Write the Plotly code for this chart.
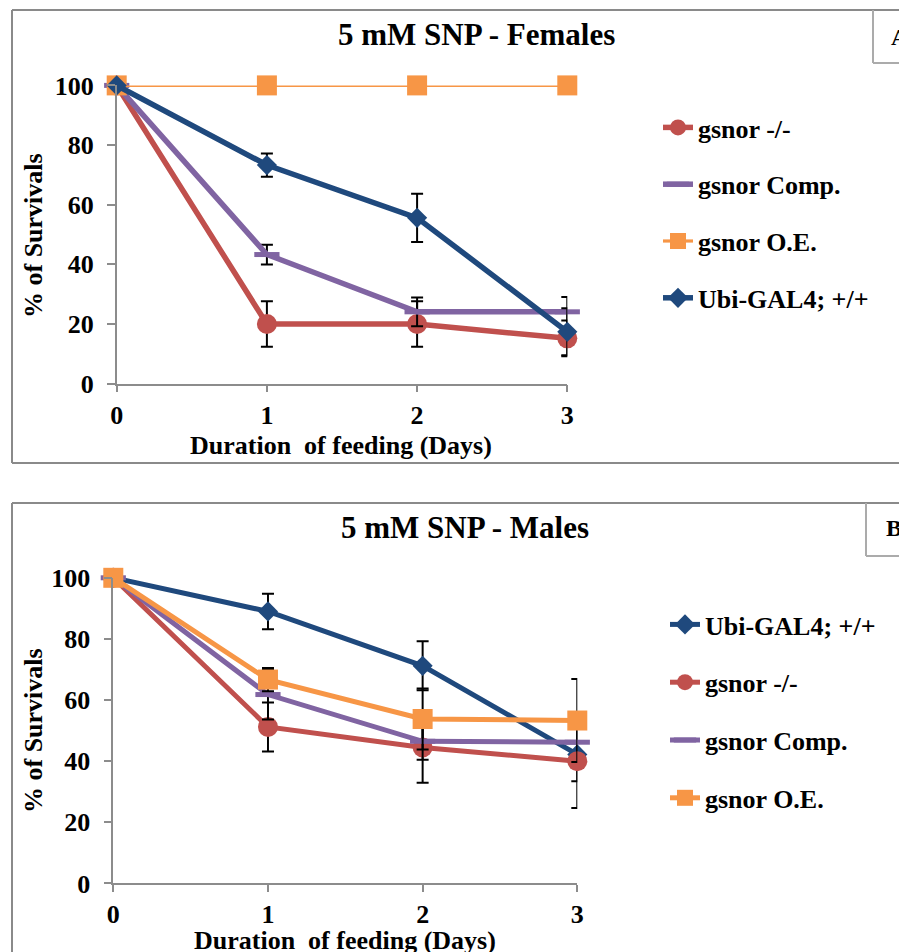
import plotly.graph_objects as go

W, H = 907, 952
OFF = 8  # page body margin of the html page, in px

# ---------------- data ----------------
days = [0, 1, 2, 3]
y_ticks = [0, 20, 40, 60, 80, 100]

# Panel A: 5 mM SNP - Females
f_ko = [100, 20.0, 20.0, 15.2]
f_ko_err = [0, 7.6, 7.6, 6.0]
f_comp = [100, 43.3, 24.1, 24.1]
f_comp_err = [0, 3.3, 4.8, 5.0]
f_oe = [100, 100, 100, 100]
f_oe_err = [0, 0, 0, 0]
f_ubi = [100, 73.3, 55.6, 17.4]
f_ubi_err = [0, 3.9, 8.1, 7.9]

# Panel B: 5 mM SNP - Males
m_ubi = [100, 89.0, 71.2, 42.2]
m_ubi_err = [0, 5.8, 8.0, 8.8]
m_ko = [100, 51.2, 44.5, 40.0]
m_ko_err = [0, 8.0, 11.6, 15.3]
m_comp = [100, 61.8, 46.5, 46.2]
m_comp_err = [0, 8.2, 6.0, 0]
m_oe = [100, 66.7, 53.8, 53.3]
m_oe_err = [0, 3.8, 10.0, 13.6]

# ---------------- styles ----------------
RED, PURPLE, ORANGE, BLUE = "#C0504D", "#8064A2", "#F79646", "#1F497D"
FONT = "Liberation Serif, Times New Roman, serif"
AXC = "#8C8C8C"

def px(x):
    return (x - OFF) / W

def py(y):
    return 1 - (y - OFF) / H

def style(kind):
    if kind == "ko":
        return RED, dict(symbol="circle", size=20, color=RED)
    if kind == "comp":
        return PURPLE, dict(symbol="line-ew", size=18, color=PURPLE,
                            line=dict(color=PURPLE, width=5))
    if kind == "oe":
        return ORANGE, dict(symbol="square", size=20, color=ORANGE)
    return BLUE, dict(symbol="diamond", size=15.5, color=BLUE)

fig = go.Figure()

def add(name, kind, ys, errs, xa, ya, leg, lw, show_err=True):
    color, marker = style(kind)
    fig.add_trace(go.Scatter(
        x=days, y=ys, name=name, mode="lines+markers",
        line=dict(color=color, width=lw),
        marker=marker,
        error_y=dict(type="data", array=errs, color="black", thickness=2, width=6,
                     visible=show_err),
        xaxis=xa, yaxis=ya, legend=leg, legendgroup=leg + name, cliponaxis=False,
    ))

# top panel (order = legend order = drawing order)
add("gsnor -/-", "ko", f_ko, f_ko_err, "x", "y", "legend", 5.5)
add("gsnor Comp.", "comp", f_comp, f_comp_err, "x", "y", "legend", 5.5)
add("gsnor O.E.", "oe", f_oe, f_oe_err, "x", "y", "legend", 3.2, show_err=False)
add("Ubi-GAL4; +/+", "ubi", f_ubi, f_ubi_err, "x", "y", "legend", 5.5)

# bottom panel
add("Ubi-GAL4; +/+", "ubi", m_ubi, m_ubi_err, "x2", "y2", "legend2", 5)
add("gsnor -/-", "ko", m_ko, m_ko_err, "x2", "y2", "legend2", 5)
add("gsnor Comp.", "comp", m_comp, m_comp_err, "x2", "y2", "legend2", 5)
add("gsnor O.E.", "oe", m_oe, m_oe_err, "x2", "y2", "legend2", 5)

tickfont = dict(family=FONT, size=26, color="black", weight="bold")

def xaxis(domain, anchor):
    return dict(domain=domain, range=[0, 3], anchor=anchor, tickvals=days,
                showline=True, linecolor=AXC, linewidth=1.5, ticks="outside",
                ticklen=7, tickwidth=1.5, tickcolor=AXC, showgrid=False,
                zeroline=False, tickfont=tickfont, ticklabelstandoff=0,
                automargin=False, fixedrange=True)

def yaxis(domain, anchor):
    return dict(domain=domain, range=[0, 100], anchor=anchor, tickvals=y_ticks,
                showline=True, linecolor=AXC, linewidth=1.5, ticks="outside",
                ticklen=8, tickwidth=1.5, tickcolor=AXC, showgrid=False,
                zeroline=False, tickfont=tickfont, ticklabelstandoff=8,
                automargin=False, fixedrange=True)

legfont = dict(family=FONT, size=26, color="black", weight="bold")

fig.update_layout(
    width=W, height=H, autosize=False,
    margin=dict(l=0, r=0, t=0, b=0, pad=0, autoexpand=False),
    paper_bgcolor="white", plot_bgcolor="white",
    showlegend=True,
    xaxis=xaxis([px(116.7), px(567.3)], "y"),
    yaxis=yaxis([py(383.7), py(85.4)], "x"),
    xaxis2=xaxis([px(113.3), px(577.3)], "y2"),
    yaxis2=yaxis([py(883.4), py(577.8)], "x2"),
    legend=dict(x=px(658), y=py(104), xanchor="left", yanchor="top", font=legfont,
                tracegroupgap=20, bgcolor="rgba(0,0,0,0)"),
    legend2=dict(x=px(665), y=py(601), xanchor="left", yanchor="top", font=legfont,
                 tracegroupgap=21, bgcolor="rgba(0,0,0,0)"),
)

def ann(text, x, y, size=26, angle=0, xanchor="center"):
    fig.add_annotation(text=text, x=px(x), y=py(y), xref="paper", yref="paper",
                       showarrow=False, textangle=angle, xanchor=xanchor, yanchor="middle",
                       font=dict(family=FONT, size=size, color="black", weight="bold"))

ann("5 mM SNP - Females", 476, 34, size=31)
ann("5 mM SNP - Males", 465, 527, size=31)
ann("% of Survivals", 33, 236, angle=-90)
ann("% of Survivals", 33, 731, angle=-90)
ann("Duration\u00a0 of feeding (Days)", 341, 446)
ann("Duration\u00a0 of feeding (Days)", 345, 940)
ann("A", 889, 37, size=24, xanchor="left")
ann("B", 884, 528, size=24, xanchor="left")

def line(x0, y0, x1, y1, color, width=2):
    fig.add_shape(type="line", xref="paper", yref="paper",
                  x0=px(x0), y0=py(y0), x1=px(x1), y1=py(y1),
                  line=dict(color=color, width=width))

# panel A frame
line(12, 10, 930, 10, "#8A8A8A")
line(12, 10, 12, 463, "#8A8A8A")
line(12, 463, 930, 463, "#8A8A8A")
line(873, 10, 873, 63, "#ABABAB")
line(873, 63, 930, 63, "#ABABAB")
# panel B frame
line(12, 503, 930, 503, "#8A8A8A")
line(12, 503, 12, 970, "#8A8A8A")
line(866, 503, 866, 556, "#ABABAB")
line(866, 556, 930, 556, "#ABABAB")

fig.write_html("out.html")
